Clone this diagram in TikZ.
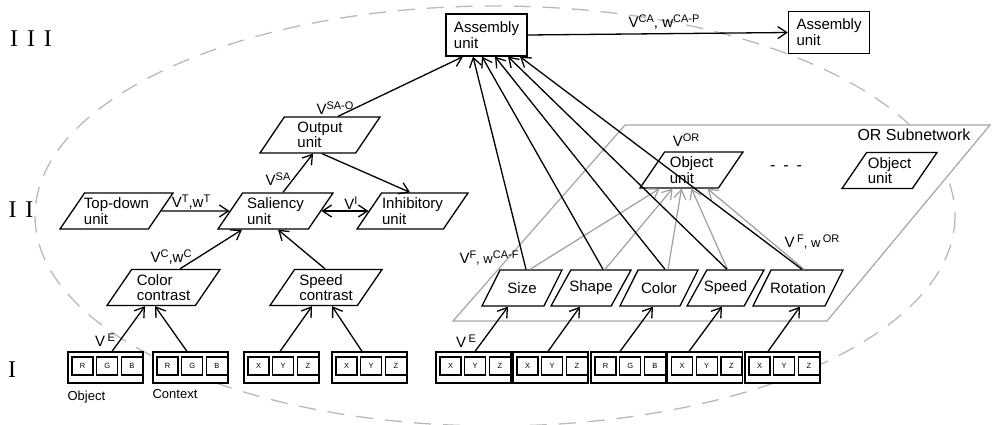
\documentclass[tikz,border=0pt]{standalone}
\usepackage{fontspec}
\setmainfont{Liberation Sans}
\newfontfamily\layerfont{Liberation Serif}
\usepackage{tikz}
\usetikzlibrary{arrows.meta,positioning,shapes.geometric}
\newcommand{\unitfont}{\fontsize{15}{15.5}\selectfont}
\newcommand{\sups}[1]{\raisebox{5.5pt}{\fontsize{11}{11}\selectfont #1}}
\newcommand{\inbox}[5]{%
  \node[inbox] (#1) at (#2) {};
  \node[cell,anchor=north west] (#1a) at ([shift={(4pt,-5pt)}]#1.north west) {#3};
  \node[cell,right=2.5pt of #1a] (#1b) {#4};
  \node[cell,right=2.5pt of #1b] (#1c) {#5};}

\begin{document}
\begin{tikzpicture}[
  x=1pt,y=-1pt,
  unit/.style={trapezium,trapezium left angle=52,trapezium right angle=128,trapezium stretches body,draw,line width=1.3pt,minimum height=36pt,inner xsep=-4pt,inner ysep=2.5pt,align=left,font=\unitfont},
  feat/.style={unit,trapezium left angle=59,trapezium right angle=121,inner xsep=-6pt,inner ysep=9.5pt,align=center},
  asm/.style={draw,line width=1.3pt,minimum width=81pt,minimum height=42pt,inner sep=2pt,align=left,font=\fontsize{15}{16}\selectfont},
  inbox/.style={draw,fill=white,line width=1.2pt,minimum width=75pt,minimum height=31pt,inner sep=0pt},
  cell/.style={draw,line width=1.2pt,minimum width=21pt,minimum height=18pt,inner sep=0pt,font=\fontsize{7.5}{7.5}\selectfont},
  lbl/.style={inner sep=0pt,font=\fontsize{15}{15}\selectfont},
  note/.style={inner sep=0pt,font=\fontsize{13}{13}\selectfont},
  layer/.style={inner sep=0pt,font=\layerfont\fontsize{24}{24}\selectfont},
  arr/.style={-{Straight Barb[length=9pt,width=12pt]},line width=1.3pt},
  garr/.style={arr,color=gray!75,line width=1.2pt},
  darr/.style={{Straight Barb[length=9pt,width=12pt]}-{Straight Barb[length=9pt,width=12pt]},line width=1.3pt},
  ell/.style={draw=gray!55,dash pattern=on 17pt off 12pt,line width=1.3pt},
  subnet/.style={draw=gray!70,fill=white,line width=1.2pt}]
\useasboundingbox (0,0) rectangle (993,425);
% background: dashed outline and OR subnetwork plane
\draw[ell] (495,216) ellipse [x radius=460, y radius=210];
\draw[subnet] (453,321) -- (827,321) -- (990,125) -- (625,125) -- cycle;
\node[lbl,font=\fontsize{16}{16}\selectfont] (ornet) at (914,135) {OR Subnetwork};
% layers
\node[layer] (lay3) at (31,39) {I\hspace{9pt}I\hspace{9pt}I};
\node[layer] (lay2) at (21,210) {I\hspace{9pt}I};
\node[layer] (lay1) at (12,370) {I};
% units
\node[asm] (asmA) at (486.5,35) {Assembly\\unit};
\node[asm] (asmB) at (829,32.5) {Assembly\\unit};
\node[unit,minimum width=120pt] (out) at (320,135) {Output\\unit};
\node[unit,minimum width=113pt] (td) at (116.5,211) {Top-down\\unit};
\node[unit,minimum width=115pt] (sal) at (275.5,211) {Saliency\\unit};
\node[unit,minimum width=111pt] (inh) at (412.5,211) {Inhibitory\\unit};
\node[unit,minimum width=113pt] (cc) at (163.5,287.5) {Color\\contrast};
\node[unit,minimum width=112pt] (sc) at (326,287.5) {Speed\\contrast};
\node[unit,minimum width=103pt] (obj) at (691.5,170) {Object\\unit};
\node[unit,minimum width=95pt] (obj2) at (889.5,170.5) {Object\\unit};
\node[lbl,font=\fontsize{16}{16}\selectfont] (dots) at (786,168) {-\hspace{8pt}-\hspace{8pt}-};
\node[feat,minimum width=80pt] (fsize) at (522,288) {Size};
\node[feat,minimum width=80pt] (fshape) at (591,288) {Shape};
\node[feat,minimum width=78pt] (fcolor) at (659,288) {Color};
\node[feat,minimum width=77pt] (fspeed) at (725.5,288) {Speed};
\node[feat,minimum width=90pt] (frot) at (798,288) {Rotation};
% inputs
\inbox{in1}{105.5,367.5}{R}{G}{B}
\inbox{in2}{190.5,367.5}{R}{G}{B}
\inbox{in3}{281.5,367.5}{X}{Y}{Z}
\inbox{in4}{369.5,367.5}{X}{Y}{Z}
\inbox{in5}{473.5,367.5}{X}{Y}{Z}
\inbox{in6}{550.5,367.5}{X}{Y}{Z}
\inbox{in7}{628.5,367.5}{R}{G}{B}
\inbox{in8}{705,367.5}{X}{Y}{Z}
\inbox{in9}{782.5,367.5}{X}{Y}{Z}
\node[note,anchor=north west] (lobj) at ([yshift=-7pt]in1.south west) {Object};
\node[note,anchor=north west] (lctx) at ([yshift=-6pt]in2.south west) {Context};
% labels
\node[lbl] (vsao) at (335,108) {V\sups{SA-O}};
\node[lbl] (vsa) at (278,179) {V\sups{SA}};
\node[lbl] (vt) at (191,202) {V\sups{T},w\sups{T}};
\node[lbl] (vi) at (351,203) {V\sups{I}};
\node[lbl] (vc) at (171,257) {V\sups{C},w\sups{C}};
\node[lbl] (ve1) at (105,340) {V\,\sups{E}};
\node[lbl] (ve2) at (466,341) {V\,\sups{E}};
\node[lbl] (vfca) at (489,258) {V\sups{F}{\fontsize{13}{13}\selectfont, w}\sups{CA-F}};
\node[lbl] (vfor) at (812,242) {V\,\sups{F}{\fontsize{13}{13}\selectfont, w}\,\sups{OR}};
\node[lbl] (vor) at (686,140) {V\sups{OR}};
\node[lbl] (vca) at (664,22) {V\sups{CA}, w\sups{CA-P}};
% connectors
\draw[arr] ([xshift=6.5pt]in1.north) -- ([xshift=-18.5pt]cc.south);
\draw[arr] ([xshift=-3.5pt]in2.north) -- ([xshift=-8.5pt]cc.south);
\draw[arr] ([xshift=-1.5pt]in3.north) -- ([xshift=-14pt]sc.south);
\draw[arr] ([xshift=-7.5pt]in4.north) -- ([xshift=6pt]sc.south);
\draw[arr] ([xshift=16.5pt]cc.north) -- ([xshift=-33.5pt]sal.south);
\draw[arr] ([xshift=-1pt]sc.north) -- ([xshift=2.5pt]sal.south);
\draw[arr] (td.east) -- (sal.west);
\draw[darr] (sal.east) -- (inh.west);
\draw[arr] ([xshift=7.5pt]sal.north) -- ([xshift=-7pt]out.south);
\draw[arr] ([xshift=2pt]out.south) -- ([xshift=-2.5pt]inh.north);
\draw[arr] ([xshift=18pt]out.north) -- ([xshift=-23.5pt]asmA.south);
\draw[arr] (asmA.east) -- (asmB.west);
\draw[arr] ([xshift=1.5pt]in5.north) -- ([xshift=-14pt]fsize.south);
\draw[arr] ([xshift=-2.5pt]in6.north) -- ([xshift=-11pt]fshape.south);
\draw[arr] ([xshift=-8.5pt]in7.north) -- ([xshift=-6pt]fcolor.south);
\draw[arr] ([xshift=-16pt]in8.north) -- ([xshift=-3.5pt]fspeed.south);
\draw[arr] ([xshift=-14.5pt]in9.north) -- ([xshift=2pt]frot.south);
\draw[garr] ([xshift=8pt]fsize.north) -- ([xshift=-32pt]obj.south);
\draw[garr] ([xshift=14pt]fshape.north) -- ([xshift=-19pt]obj.south);
\draw[garr] ([xshift=9pt]fcolor.north) -- ([xshift=-10pt]obj.south);
\draw[garr] ([xshift=2pt]fspeed.north) -- ([xshift=0pt]obj.south);
\draw[garr] ([xshift=6pt]frot.north) -- ([xshift=16pt]obj.south);
\draw[arr] ([xshift=4pt]fsize.north) -- ([xshift=-13.5pt]asmA.south);
\draw[arr] ([xshift=12pt]fshape.north) -- ([xshift=-4.5pt]asmA.south);
\draw[arr] ([xshift=6pt]fcolor.north) -- ([xshift=8.5pt]asmA.south);
\draw[arr] ([xshift=1.5pt]fspeed.north) -- ([xshift=21.5pt]asmA.south);
\draw[arr] ([xshift=4pt]frot.north) -- ([xshift=33.5pt]asmA.south);
\end{tikzpicture}
\end{document}
